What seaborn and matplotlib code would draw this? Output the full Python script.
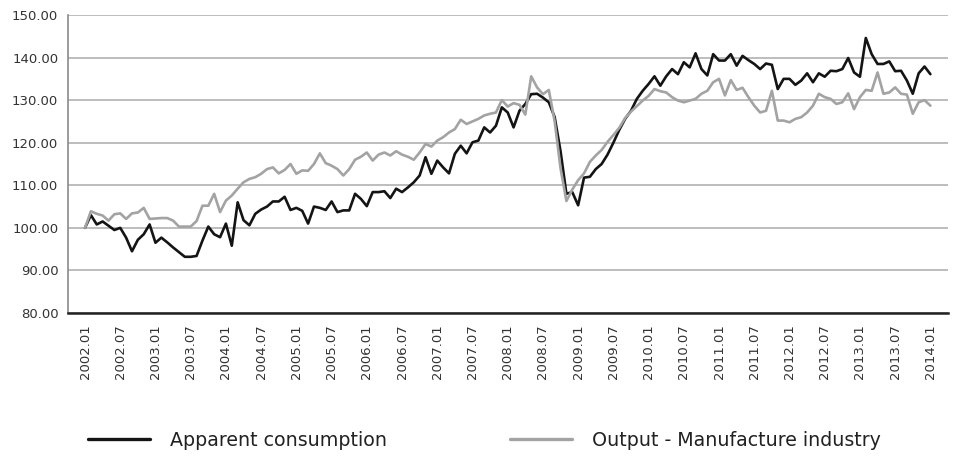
import numpy as np
import pandas as pd
import seaborn as sns
import matplotlib
matplotlib.use('Agg')
import matplotlib.pyplot as plt

# Monthly index values, 2002.01 .. 2014.01 (one row per year in the source)
consumption = [
    100.0, 103.0, 100.8, 101.5, 100.5, 99.5, 100.0, 97.7, 94.5, 97.2, 98.5, 100.8,
    96.5, 97.7, 96.6, 95.4, 94.3, 93.2, 93.2, 93.4, 97.0, 100.3, 98.5, 97.8,
    101.0, 95.8, 106.0, 101.8, 100.6, 103.3, 104.3, 105.0, 106.2, 106.2, 107.3, 104.2,
    104.7, 104.0, 101.0, 105.0, 104.7, 104.2, 106.2, 103.7, 104.1, 104.1, 108.0, 106.8,
    105.1, 108.4, 108.4, 108.6, 107.0, 109.2, 108.4, 109.5, 110.7, 112.3, 116.6, 112.7,
    115.8, 114.2, 112.8, 117.4, 119.3, 117.5, 120.1, 120.5, 123.6, 122.4, 124.0, 128.3,
    127.1, 123.6, 127.5, 129.1, 131.4, 131.5, 130.6, 129.5, 126.0, 118.0, 108.0, 108.4,
    105.3, 111.8, 112.0, 113.8, 115.0, 117.2, 120.0, 123.0, 125.6, 127.5, 130.3, 132.2,
    133.8, 135.6, 133.4, 135.6, 137.3, 136.1, 138.9, 137.7, 141.0, 137.3, 135.8, 140.8,
    139.3, 139.3, 140.8, 138.1, 140.4, 139.4, 138.5, 137.3, 138.6, 138.3, 132.6, 135.0,
    135.0, 133.6, 134.6, 136.3, 134.2, 136.3, 135.5, 136.9, 136.8, 137.3, 139.9, 136.5,
    135.5, 144.6, 140.8, 138.5, 138.5, 139.1, 136.8, 136.9, 134.6, 131.5, 136.3, 137.9,
    136.1,
]
output = [
    100.0, 103.9, 103.3, 102.9, 101.7, 103.2, 103.4, 102.1, 103.4, 103.6, 104.7, 102.1,
    102.2, 102.3, 102.3, 101.7, 100.3, 100.3, 100.3, 101.6, 105.2, 105.2, 108.0, 103.7,
    106.4, 107.6, 109.2, 110.7, 111.5, 111.9, 112.7, 113.8, 114.2, 112.8, 113.6, 115.0,
    112.7, 113.5, 113.4, 115.0, 117.5, 115.2, 114.6, 113.8, 112.3, 113.8, 116.0, 116.7,
    117.7, 115.8, 117.2, 117.7, 117.0, 118.0, 117.2, 116.7, 116.0, 117.7, 119.7, 119.1,
    120.5, 121.3, 122.4, 123.2, 125.4, 124.4, 125.0, 125.6, 126.4, 126.8, 127.1, 130.0,
    128.5, 129.3, 128.9, 126.6, 135.6, 133.0, 131.4, 132.4, 125.0, 114.0, 106.3, 109.0,
    111.2, 112.8, 115.5, 117.0, 118.3, 120.2, 121.8, 123.5, 125.8, 127.3, 128.6, 129.9,
    131.0, 132.6, 132.1, 131.8, 130.7, 129.9, 129.5, 129.9, 130.3, 131.5, 132.2, 134.2,
    135.0, 131.1, 134.7, 132.4, 132.9, 130.7, 128.7, 127.1, 127.5, 132.2, 125.2, 125.2,
    124.8, 125.6, 126.0, 127.1, 128.7, 131.5, 130.7, 130.3, 129.1, 129.5, 131.6, 127.9,
    130.7, 132.4, 132.2, 136.5, 131.5, 131.8, 133.0, 131.5, 131.3, 126.8, 129.5, 130.0,
    128.7,
]
tick_labels = [
    '2002.01', '2002.07', '2003.01', '2003.07', '2004.01', '2004.07', '2005.01',
    '2005.07', '2006.01', '2006.07', '2007.01', '2007.07', '2008.01', '2008.07',
    '2009.01', '2009.07', '2010.01', '2010.07', '2011.01', '2011.07', '2012.01',
    '2012.07', '2013.01', '2013.07', '2014.01',
]
series_names = ['Apparent consumption', 'Output - Manufacture industry']
y_ticks = [80, 90, 100, 110, 120, 130, 140, 150]

n = len(consumption)
df = pd.DataFrame({
    'month': np.concatenate([np.arange(n), np.arange(n)]),
    'value': consumption + output,
    'series': [series_names[0]] * n + [series_names[1]] * n,
})

sns.set_style('white')
plt.rcParams['font.family'] = ['DejaVu Sans']

fig = plt.figure(figsize=(9.62, 4.68), dpi=100)
ax = fig.add_axes([68 / 962, 1 - 313 / 468, 880 / 962, 298 / 468])

sns.lineplot(data=df, x='month', y='value', hue='series', hue_order=series_names,
             palette=['#141414', '#a3a3a3'], linewidth=1.9, legend=False, ax=ax)

ax.set_xlim(-2.9, 147.0)
ax.set_ylim(80, 150)
ax.set_yticks(y_ticks)
ax.set_yticklabels([f'{v:.2f}' for v in y_ticks])
ax.set_xticks(np.arange(0, n, 6))
ax.set_xticklabels(tick_labels, rotation=90)
ax.set_xlabel('')
ax.set_ylabel('')

ax.yaxis.grid(True, color='#b8b8b8', linewidth=1.3)
ax.xaxis.grid(False)
ax.set_axisbelow(True)
for side in ['top', 'right']:
    ax.spines[side].set_visible(False)
ax.spines['left'].set_color('#8a8a8a')
ax.spines['left'].set_linewidth(1.2)
ax.spines['bottom'].set_color('#222222')
ax.spines['bottom'].set_linewidth(1.8)
ax.tick_params(axis='x', length=0, pad=8, labelsize=9.5, labelcolor='#333333')
ax.tick_params(axis='y', length=0, pad=7, labelsize=9.5, labelcolor='#333333')

# Legend: two single-entry legends so each handle sits where it does in the source
lines = ax.get_lines()
legend_font = {'family': 'DejaVu Sans', 'size': 13.7}
for line, label, x0 in zip(lines[:2], series_names, [88, 510]):
    handle = plt.Line2D([], [], color=line.get_color(), linewidth=2.4)
    leg = fig.legend([handle], [label], loc='center left',
                     bbox_to_anchor=(x0 / 962, 1 - 440 / 468), frameon=False,
                     borderpad=0, borderaxespad=0, handlelength=3.25,
                     handletextpad=1.05, prop=legend_font)
    for t in leg.get_texts():
        t.set_color('#222222')

fig.savefig('out.png', dpi=100)
